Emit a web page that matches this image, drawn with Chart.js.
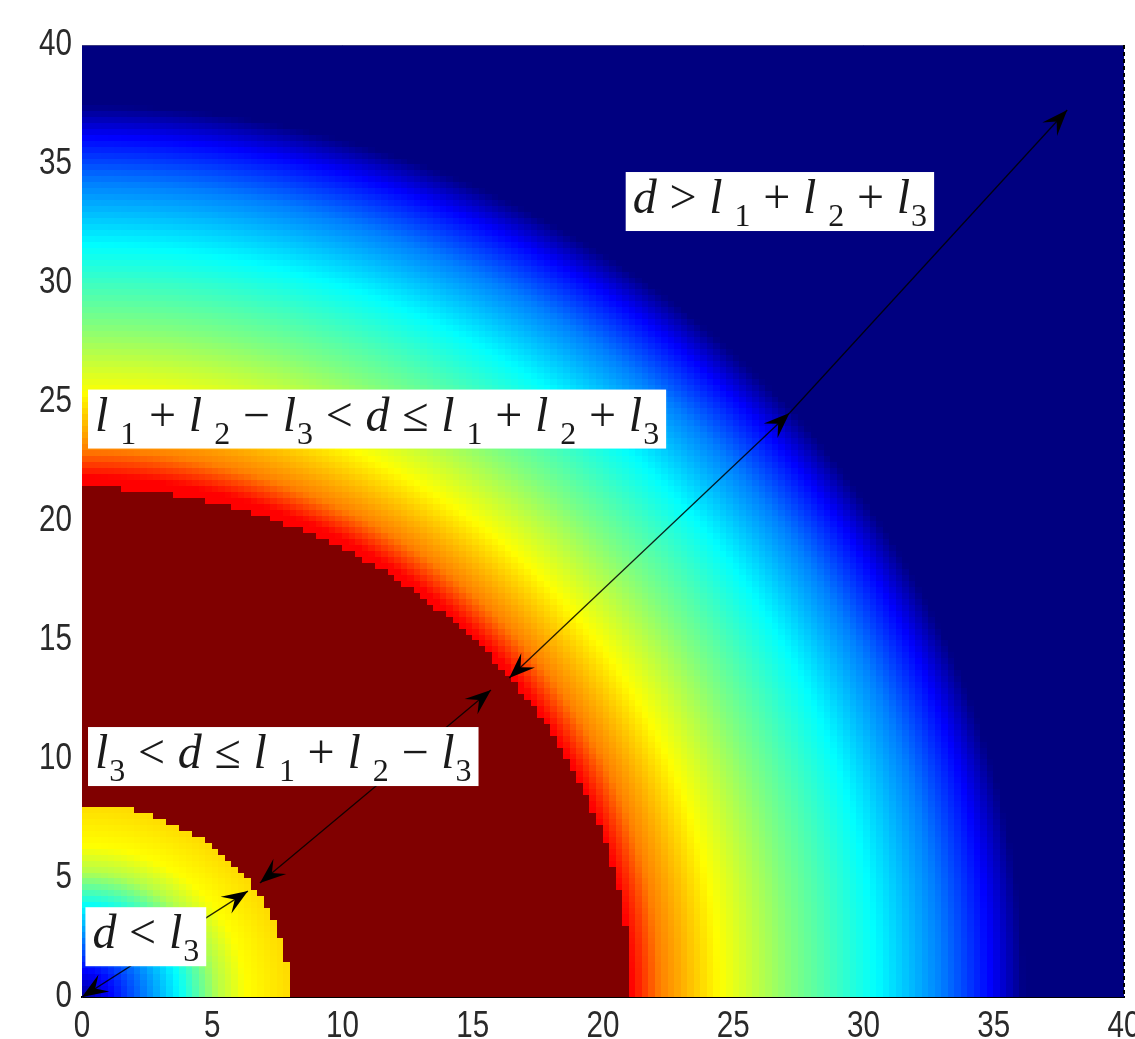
<!DOCTYPE html>
<html><head><meta charset="utf-8">
<script src="https://cdn.jsdelivr.net/npm/chart.js@4.4.1/dist/chart.umd.min.js"></script>
<style>html,body{margin:0;padding:0;background:#fff;overflow:hidden}canvas{display:block}</style>
</head><body><canvas id="c" width="1135" height="1039"></canvas>
<script>
// ---- data ----
const xTicks = [0, 5, 10, 15, 20, 25, 30, 35, 40];
const yTicks = [0, 5, 10, 15, 20, 25, 30, 35, 40];
const l3 = 8.0;            // inner radius  (d < l3)
const l12 = 29.1;          // l1 + l2
const boundaryStretch = 0.985;  // vertical scale of the region boundaries
const gradientStretch = 0.965;  // vertical scale of the outer colour ramp
const cellSize = 0.25;
// colour profile (distance -> jet value) inside d < l3
const innerDist = [0, 1.1, 3.76, 5.2, 6.3, 8.0];
const innerVal  = [0.02, 0.125, 0.375, 0.55, 0.625, 0.66];
// colour profile between l1+l2-l3 and l1+l2+l3
const outerDist = [21.1, 22.2, 24.5, 27.3, 30.5, 33.0, 34.9, 36.2];
const outerVal  = [0.875, 0.75, 0.625, 0.5, 0.375, 0.25, 0.125, 0.0];
// arrows
const arrowX0 = [0, 6.83, 16.4, 27.16];
const arrowY0 = [0, 4.79, 13.4, 24.54];
const arrowX1 = [6.37, 15.7, 27.16, 37.82];
const arrowY1 = [4.45, 12.9, 24.54, 37.27];
const arrowHeadStart = [true, true, true, false];
const arrowHeadEnd = [true, true, true, true];
// labels
const labelTexts = ['d > l₁ + l₂ + l₃', 'l₁ + l₂ − l₃ < d ≤ l₁ + l₂ + l₃', 'l₃ < d ≤ l₁ + l₂ − l₃', 'd < l₃'];
const labelX = [21.14, 0.5, 0.5, 0.4];
const labelY = [32.94, 23.8, 9.62, 2.05];

// ---- helpers ----
function interp(ds, vs, d) {
  if (d <= ds[0]) return vs[0];
  for (let i = 1; i < ds.length; i++) {
    if (d <= ds[i]) { const t = (d - ds[i-1]) / (ds[i] - ds[i-1]); return vs[i-1] + t * (vs[i] - vs[i-1]); }
  }
  return vs[vs.length - 1];
}
function fieldValue(x, y) {
  const d1 = Math.hypot(x, y * boundaryStretch);
  if (d1 < l3) return interp(innerDist, innerVal, d1);
  if (d1 <= l12 - l3) return 1.0;
  return interp(outerDist, outerVal, Math.hypot(x, y * gradientStretch));
}
function jet(v) {
  const c = t => Math.round(255 * Math.max(0, Math.min(1, t)));
  return 'rgb(' + c(1.5 - Math.abs(4 * v - 3)) + ',' + c(1.5 - Math.abs(4 * v - 2)) + ',' + c(1.5 - Math.abs(4 * v - 1)) + ')';
}

// linear scale whose tick labels are drawn horizontally condensed (like the original narrow digits)
class NarrowLinearScale extends Chart.LinearScale {
  drawLabels(area) {
    const ctx = this.ctx, sx = 0.8;
    const base = CanvasRenderingContext2D.prototype.fillText;
    ctx.fillText = function (t, x, y) { this.save(); this.translate(x, y); this.scale(sx, 1); base.call(this, t, 0, 0); this.restore(); };
    try { super.drawLabels(area); } finally { delete ctx.fillText; }
  }
}
NarrowLinearScale.id = 'narrowLinear';
NarrowLinearScale.defaults = Chart.LinearScale.defaults;
Chart.register(NarrowLinearScale);

const heatmapPlugin = {
  id: 'heatmap',
  beforeDatasetsDraw(chart) {
    const { ctx, chartArea: a, scales: { x, y } } = chart;
    ctx.save();
    ctx.beginPath(); ctx.rect(a.left, a.top, a.right - a.left, a.bottom - a.top); ctx.clip();
    const n = Math.round((x.max - x.min) / cellSize), m = Math.round((y.max - y.min) / cellSize);
    for (let i = 0; i < n; i++) {
      const xv = x.min + i * cellSize;
      const px0 = Math.floor(x.getPixelForValue(xv)), px1 = Math.ceil(x.getPixelForValue(xv + cellSize));
      for (let j = 0; j < m; j++) {
        const yv = y.min + j * cellSize;
        const py0 = Math.ceil(y.getPixelForValue(yv)), py1 = Math.floor(y.getPixelForValue(yv + cellSize));
        ctx.fillStyle = jet(fieldValue(xv + cellSize / 2, yv + cellSize / 2));
        ctx.fillRect(px0, py1, px1 - px0, py0 - py1);
      }
    }
    ctx.restore();
  }
};

function drawHead(ctx, tx, ty, fx, fy) {
  const dx = tx - fx, dy = ty - fy, len = Math.hypot(dx, dy);
  const ux = dx / len, uy = dy / len, nx = -uy, ny = ux;
  const L = 26, W = 10;
  ctx.beginPath();
  ctx.moveTo(tx, ty);
  ctx.lineTo(tx - ux * L + nx * W, ty - uy * L + ny * W);
  ctx.lineTo(tx - ux * L * 0.6, ty - uy * L * 0.6);
  ctx.lineTo(tx - ux * L - nx * W, ty - uy * L - ny * W);
  ctx.closePath();
  ctx.fill();
}

const mainFont = 48, subFont = 32, opGap = 12.7, subGap = 12;
const mathFamily = '"Liberation Serif", "Times New Roman", serif';
function layoutTokens(ctx, text) {
  const toks = [];
  const subs = { '₁': '1', '₂': '2', '₃': '3' };
  for (const ch of text) {
    if (ch === ' ') continue;
    if (subs[ch]) {
      toks.push({ t: subs[ch], font: subFont + 'px ' + mathFamily, dy: 13, gapBefore: ch === '₃' ? 1 : subGap, gapAfter: 0 });
    } else if (/[a-z]/.test(ch)) {
      toks.push({ t: ch, font: 'italic ' + mainFont + 'px ' + mathFamily, dy: 0, gapBefore: 0, gapAfter: 0 });
    } else {
      toks.push({ t: ch, font: mainFont + 'px ' + mathFamily, dy: 0, gapBefore: opGap, gapAfter: opGap });
    }
  }
  let x = 0;
  for (const tk of toks) {
    ctx.font = tk.font;
    x += tk.gapBefore;
    tk.x = x;
    x += ctx.measureText(tk.t).width + tk.gapAfter;
  }
  return { toks, width: x };
}

const annotationPlugin = {
  id: 'annot',
  afterDatasetsDraw(chart) {
    const { ctx, chartArea: a, scales: { x, y } } = chart;
    ctx.save();
    ctx.beginPath(); ctx.rect(a.left, a.top, a.right - a.left, a.bottom - a.top); ctx.clip();
    ctx.fillStyle = '#000';
    for (let k = 0; k < arrowX0.length; k++) {
      const sx = x.getPixelForValue(arrowX0[k]), sy = y.getPixelForValue(arrowY0[k]);
      const ex = x.getPixelForValue(arrowX1[k]), ey = y.getPixelForValue(arrowY1[k]);
      if (arrowHeadEnd[k]) drawHead(ctx, ex, ey, sx, sy);
      if (arrowHeadStart[k]) drawHead(ctx, sx, sy, ex, ey);
    }
    ctx.restore();
    ctx.save();
    for (let k = 0; k < labelTexts.length; k++) {
      const lay = layoutTokens(ctx, labelTexts[k]);
      const bx = x.getPixelForValue(labelX[k]), by = y.getPixelForValue(labelY[k]);
      ctx.fillStyle = '#fff';
      ctx.fillRect(bx - 7, by - 41, lay.width + 14, 59);
      ctx.fillStyle = '#1a1a1a';
      ctx.textBaseline = 'alphabetic';
      ctx.textAlign = 'left';
      for (const tk of lay.toks) {
        ctx.font = tk.font;
        ctx.fillText(tk.t, bx + tk.x, by + tk.dy);
      }
    }
    ctx.strokeStyle = '#3a3a80'; ctx.lineWidth = 1;
    ctx.beginPath(); ctx.moveTo(a.left, a.top + 0.5); ctx.lineTo(a.right, a.top + 0.5); ctx.stroke();
    ctx.strokeStyle = '#000'; ctx.lineWidth = 2; ctx.setLineDash([4, 3]);
    ctx.beginPath(); ctx.moveTo(a.right, a.top); ctx.lineTo(a.right, a.bottom); ctx.stroke();
    ctx.setLineDash([]);
    ctx.restore();
  }
};

const datasets = arrowX0.map((x0, k) => ({
  data: [{ x: arrowX0[k], y: arrowY0[k] }, { x: arrowX1[k], y: arrowY1[k] }],
  showLine: true, borderColor: 'rgba(0,0,0,0.85)', borderWidth: 1.3, pointRadius: 0, fill: false
}));

const tickFont = { family: '"Liberation Sans", Arial, sans-serif', size: 37 };
new Chart(document.getElementById('c'), {
  type: 'scatter',
  data: { datasets },
  plugins: [heatmapPlugin, annotationPlugin],
  options: {
    responsive: false, animation: false, devicePixelRatio: 1,
    layout: { padding: { top: 45, right: 11, left: 0, bottom: 0 } },
    plugins: { legend: { display: false }, tooltip: { enabled: false } },
    scales: {
      x: {
        type: 'narrowLinear', min: 0, max: 40,
        afterBuildTicks: s => { s.ticks = xTicks.map(v => ({ value: v })); },
        afterFit: s => { s.height = 42; s.paddingLeft = 0; s.paddingRight = 0; },
        grid: { display: false, drawTicks: false },
        border: { display: true, color: '#000', width: 2 },
        ticks: { font: tickFont, color: '#2a2a2a', padding: 8, maxRotation: 0, autoSkip: false }
      },
      y: {
        type: 'narrowLinear', min: 0, max: 40,
        afterBuildTicks: s => { s.ticks = yTicks.map(v => ({ value: v })); },
        afterFit: s => { s.width = 82; s.paddingTop = 0; s.paddingBottom = 0; },
        grid: { display: false, drawTicks: false },
        border: { display: true, color: '#10104a', width: 1 },
        ticks: { font: tickFont, color: '#2a2a2a', padding: 10, autoSkip: false }
      }
    }
  }
});
</script></body></html>
